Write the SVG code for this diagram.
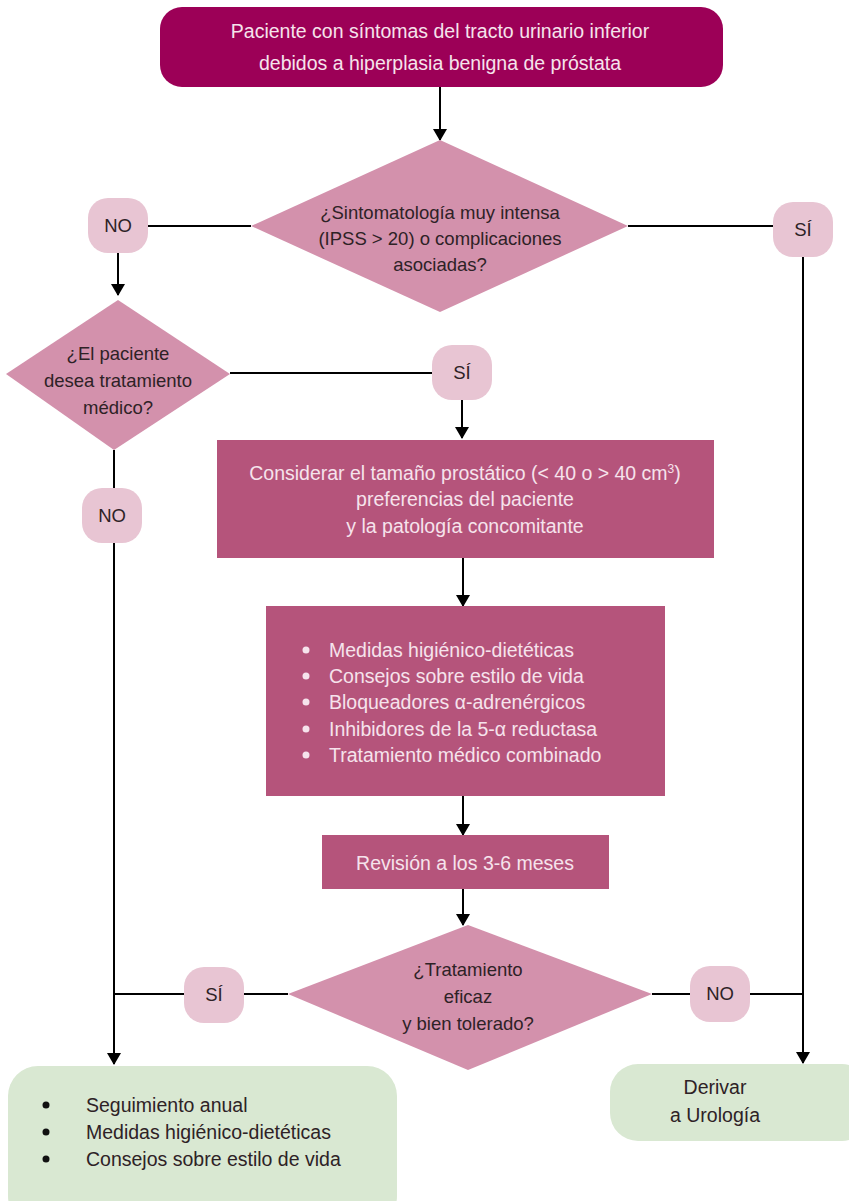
<svg xmlns="http://www.w3.org/2000/svg" width="849" height="1201" viewBox="0 0 849 1201">
<defs>
<marker id="ah" markerWidth="12" markerHeight="14" refX="11" refY="7" orient="auto" markerUnits="userSpaceOnUse">
<path d="M0,0 L12,7 L0,14 Z" fill="#000"/>
</marker>
<style>
.t{font-family:"Liberation Sans",Arial,sans-serif;}
.w{fill:#f6e3ec;font-size:19.5px;}
.d{fill:#2e2226;font-size:18.5px;}
.g{fill:#2e2226;font-size:19.5px;}
.c{text-anchor:middle;}
.ln{stroke:#000;stroke-width:2;fill:none;}
.lab{fill:#e8c5d3;}
.dia{fill:#d391ac;}
.box{fill:#b5547b;}
.grn{fill:#d9e8d2;}
</style>
</defs>
<rect width="849" height="1201" fill="#fff"/>
<g id="connectors">
<line class="ln" x1="440" y1="87" x2="440" y2="140" marker-end="url(#ah)"/>
<line class="ln" x1="148" y1="226" x2="251" y2="226"/>
<line class="ln" x1="628" y1="226" x2="773" y2="226"/>
<line class="ln" x1="118" y1="253" x2="118" y2="295" marker-end="url(#ah)"/>
<line class="ln" x1="803" y1="257" x2="803" y2="1063" marker-end="url(#ah)"/>
<line class="ln" x1="230" y1="373" x2="432" y2="373"/>
<line class="ln" x1="462" y1="400" x2="462" y2="438" marker-end="url(#ah)"/>
<line class="ln" x1="114" y1="450" x2="114" y2="488"/>
<line class="ln" x1="114" y1="543" x2="114" y2="1064" marker-end="url(#ah)"/>
<line class="ln" x1="463" y1="558" x2="463" y2="606" marker-end="url(#ah)"/>
<line class="ln" x1="463" y1="796" x2="463" y2="835" marker-end="url(#ah)"/>
<line class="ln" x1="463" y1="889" x2="463" y2="925" marker-end="url(#ah)"/>
<line class="ln" x1="114" y1="994" x2="184" y2="994"/>
<line class="ln" x1="244" y1="994" x2="288" y2="994"/>
<line class="ln" x1="652" y1="994" x2="690" y2="994"/>
<line class="ln" x1="750" y1="994" x2="803" y2="994"/>
</g>
<g id="start">
<rect x="160" y="7" width="563" height="80" rx="22" fill="#9c0057"/>
<text class="t w c" x="440" y="38">Paciente con síntomas del tracto urinario inferior</text>
<text class="t w c" x="440" y="70">debidos a hiperplasia benigna de próstata</text>
</g>
<g id="q1">
<polygon class="dia" points="440,140 628,226 440,312 251,226"/>
<text class="t d c" x="440" y="219">¿Sintomatología muy intensa</text>
<text class="t d c" x="440" y="245">(IPSS &gt; 20) o complicaciones</text>
<text class="t d c" x="440" y="271">asociadas?</text>
</g>
<g id="q1-no">
<rect class="lab" x="88" y="198" width="60" height="55" rx="20"/>
<text class="t d c" x="118" y="232">NO</text>
</g>
<g id="q1-si">
<rect class="lab" x="773" y="202" width="60" height="55" rx="20"/>
<text class="t d c" x="803" y="236">SÍ</text>
</g>
<g id="q2">
<polygon class="dia" points="118,300 230,374 114,450 6,374"/>
<text class="t d c" x="118" y="360">¿El paciente</text>
<text class="t d c" x="118" y="387">desea tratamiento</text>
<text class="t d c" x="118" y="414">médico?</text>
</g>
<g id="q2-si">
<rect class="lab" x="432" y="345" width="60" height="55" rx="20"/>
<text class="t d c" x="462" y="379">SÍ</text>
</g>
<g id="q2-no">
<rect class="lab" x="82" y="488" width="60" height="55" rx="20"/>
<text class="t d c" x="112" y="522">NO</text>
</g>
<g id="considerar">
<rect class="box" x="217" y="440" width="497" height="118"/>
<text class="t w c" x="465" y="480">Considerar el tamaño prostático (&lt; 40 o &gt; 40 cm<tspan font-size="12" dy="-7">3</tspan><tspan dy="7">)</tspan></text>
<text class="t w c" x="465" y="506">preferencias del paciente</text>
<text class="t w c" x="465" y="533">y la patología concomitante</text>
</g>
<g id="tratamiento">
<rect class="box" x="266" y="606" width="399" height="190"/>
<g fill="#f6e3ec">
<circle cx="306" cy="650" r="3.5"/>
<circle cx="306" cy="676" r="3.5"/>
<circle cx="306" cy="702" r="3.5"/>
<circle cx="306" cy="729" r="3.5"/>
<circle cx="306" cy="755" r="3.5"/>
</g>
<text class="t w" x="329" y="657">Medidas higiénico-dietéticas</text>
<text class="t w" x="329" y="683">Consejos sobre estilo de vida</text>
<text class="t w" x="329" y="709">Bloqueadores α-adrenérgicos</text>
<text class="t w" x="329" y="736">Inhibidores de la 5-α reductasa</text>
<text class="t w" x="329" y="762">Tratamiento médico combinado</text>
</g>
<g id="revision">
<rect class="box" x="322" y="835" width="287" height="54"/>
<text class="t w c" x="465" y="870">Revisión a los 3-6 meses</text>
</g>
<g id="q3">
<polygon class="dia" points="468,925 652,994 468,1070 288,994"/>
<text class="t d c" x="468" y="976">¿Tratamiento</text>
<text class="t d c" x="468" y="1003">eficaz</text>
<text class="t d c" x="468" y="1030">y bien tolerado?</text>
</g>
<g id="q3-si">
<rect class="lab" x="184" y="967" width="60" height="56" rx="20"/>
<text class="t d c" x="214" y="1001">SÍ</text>
</g>
<g id="q3-no">
<rect class="lab" x="690" y="966" width="60" height="56" rx="20"/>
<text class="t d c" x="720" y="1000">NO</text>
</g>
<g id="seguimiento">
<rect class="grn" x="8" y="1066" width="389" height="160" rx="30"/>
<g fill="#111">
<circle cx="46" cy="1105" r="3.5"/>
<circle cx="46" cy="1132" r="3.5"/>
<circle cx="46" cy="1159" r="3.5"/>
</g>
<text class="t g" x="86" y="1112">Seguimiento anual</text>
<text class="t g" x="86" y="1139">Medidas higiénico-dietéticas</text>
<text class="t g" x="86" y="1166">Consejos sobre estilo de vida</text>
</g>
<g id="derivar">
<rect class="grn" x="610" y="1064" width="260" height="77" rx="28"/>
<text class="t g c" x="715" y="1094">Derivar</text>
<text class="t g c" x="715" y="1122">a Urología</text>
</g>
</svg>
